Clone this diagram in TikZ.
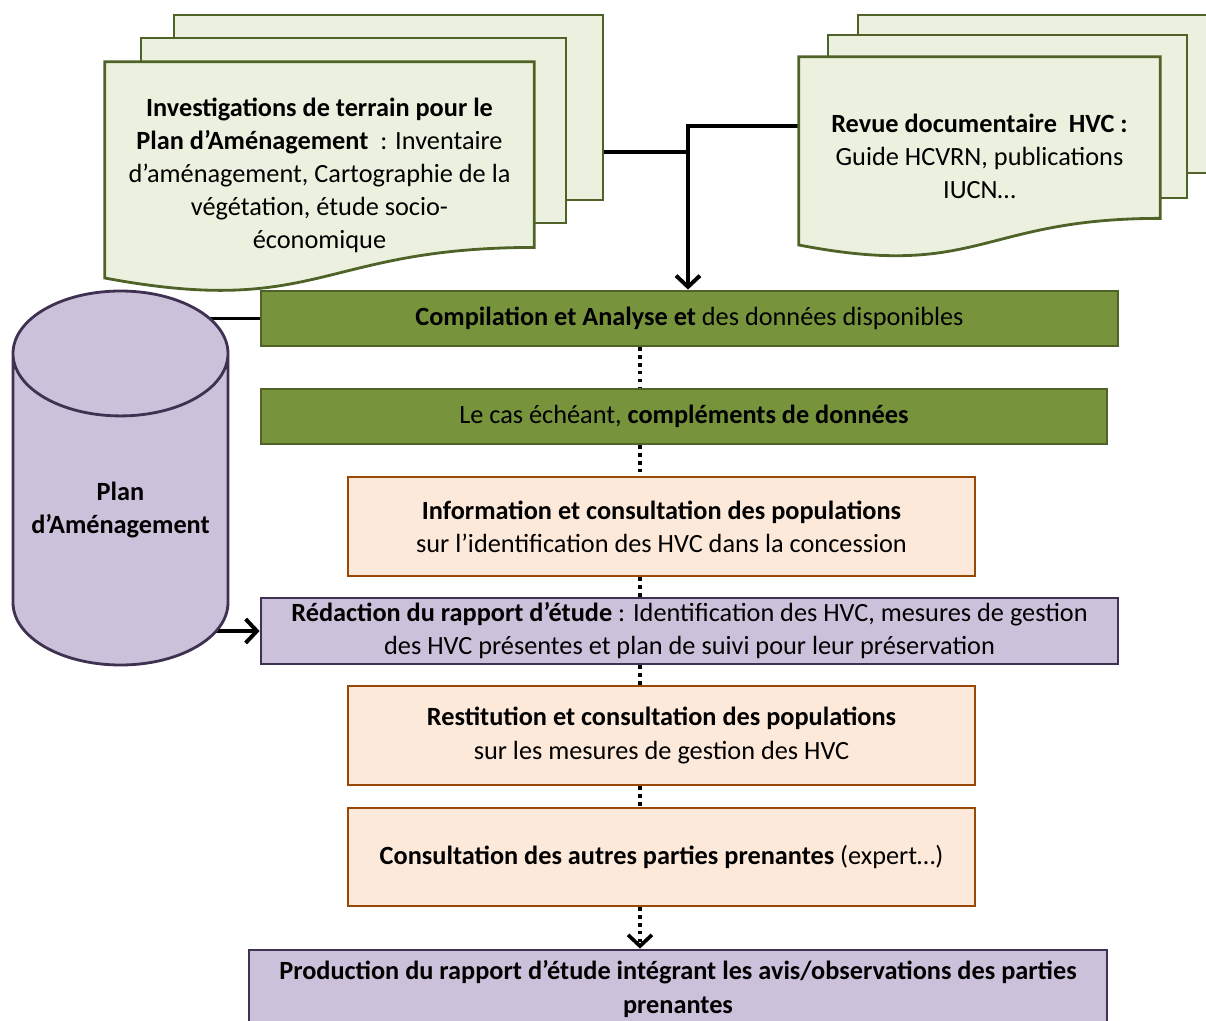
\documentclass[tikz,border=0pt]{standalone}
\usepackage{fontspec}
\setmainfont{Carlito}
\usetikzlibrary{arrows.meta,calc,shapes.geometric,positioning}

\newcommand\pu{0.025cm}
\definecolor{docfill}{HTML}{EBF1DE}
\definecolor{olivedk}{HTML}{4F6228}
\definecolor{olive}{HTML}{77933C}
\definecolor{peach}{HTML}{FDE9D9}
\definecolor{rust}{HTML}{984807}
\definecolor{lilac}{HTML}{CCC1DA}
\definecolor{plum}{HTML}{3F3151}

\begin{document}
\begin{tikzpicture}[x=\pu,y=-\pu,
  >={Straight Barb[length=8pt,width=17pt]},
  font=\fontsize{18.7}{23.5}\selectfont,
  sz/.style 2 args={minimum width=#1*\pu,minimum height=#2*\pu},
  conn/.style={line width=2.8pt,black},
  dotline/.style={line width=2.6pt,dash pattern=on 2.4pt off 3.2pt},
  docpage/.style={inner sep=0pt},
  docline/.style={draw=olivedk,fill=docfill,line width=2pt}]
  \tikzstyle{greenbox} = [draw=olivedk,fill=olive,line width=2pt,inner sep=0pt,align=center]
  \tikzstyle{peachbox} = [draw=rust,fill=peach,line width=2pt,inner sep=0pt,align=center]
  \tikzstyle{lilacbox} = [draw=plum,fill=lilac,line width=2pt,inner sep=0pt,align=center]
  \path[use as bounding box,clip] (0,0) rectangle (1206,1021);

  \coordinate (HUB) at (688,126);
  \coordinate (HUBL) at (688,152);
  \coordinate (SPINE) at (640,0);

  % boxes of the main column
  \node[greenbox,sz={857}{55}] (COMPIL) at (689.5,318.5) {\textbf{Compilation et Analyse et} des données disponibles};
  \node[greenbox,sz={846}{55}] (COMPL) at (684,416.5) {Le cas échéant, \textbf{compléments de données}};
  \node[peachbox,sz={627}{99}] (INFO) at (661.5,526.5) {\textbf{Information et consultation des populations}\\sur l’identification des HVC dans la concession};
  \node[lilacbox,sz={857}{66}] (REDAC) at (689.5,631) {\textbf{Rédaction du rapport d’étude} : Identification des HVC, mesures de gestion\\des HVC présentes et plan de suivi pour leur préservation};
  \node[peachbox,sz={627}{99}] (RESTIT) at (661.5,735.5) {\textbf{Restitution et consultation des populations}\\sur les mesures de gestion des HVC};
  \node[peachbox,sz={627}{98}] (CONSULT) at (661.5,857) {\textbf{Consultation des autres parties prenantes} (expert…)};
  \node[lilacbox,sz={858}{78}] (PROD) at (678,989) {\textbf{Production du rapport d’étude intégrant les avis/observations des parties}\\\textbf{prenantes}};

  % documents
  \node[docpage,sz={429}{231}] (TERRAIN) at (319.5,177.5) {};
  \node[docpage,sz={361}{201}] (REVUE) at (979.5,157.5) {};

  \draw[conn] (HUBL -| TERRAIN.center) -- (HUBL);
  \draw[conn,->] (HUB -| REVUE.center) -- (HUB) -- (HUB |- COMPIL.north);

  \draw[docline] (174,15) rectangle (603,200);
  \draw[docline] (141,38) rectangle (566,223);
  \draw[docline] (TERRAIN.north west) -- (TERRAIN.north east)
    -- ($(TERRAIN.north east)!0.802!(TERRAIN.south east)$)
    .. controls ($(TERRAIN.north)!0.802!(TERRAIN.south)$) and ($(TERRAIN.north)!1.1075!(TERRAIN.south)$)
    .. ($(TERRAIN.north west)!0.934!(TERRAIN.south west)$) -- cycle;
  \node[align=center] (TERRAINTXT) at ([yshift=1.6pt]TERRAIN.center)
    {\textbf{Investigations de terrain pour le}\\\textbf{Plan d’Aménagement} \ : Inventaire\\d’aménagement, Cartographie de la\\végétation, étude socio-\\économique};

  \draw[docline] (858,15) rectangle (1215,173);
  \draw[docline] (828,35) rectangle (1187,198);
  \draw[docline] (REVUE.north west) -- (REVUE.north east)
    -- ($(REVUE.north east)!0.802!(REVUE.south east)$)
    .. controls ($(REVUE.north)!0.802!(REVUE.south)$) and ($(REVUE.north)!1.1075!(REVUE.south)$)
    .. ($(REVUE.north west)!0.934!(REVUE.south west)$) -- cycle;
  \node[align=center] (REVUETXT) at ([yshift=0.6pt]REVUE.center)
    {\textbf{Revue documentaire \ HVC :}\\Guide HCVRN, publications\\IUCN…};

  % plan d'amenagement
  \draw[conn] (COMPIL.west) -- (COMPIL.west -| 120,0);
  \draw[conn,->] (REDAC.west -| 120,0) -- (REDAC.west);
  \node[cylinder,shape border rotate=90,aspect=0.70,draw=plum,fill=lilac,line width=2pt,
    sz={215}{374},align=center,inner sep=0pt,anchor=shape center] (CYL) at (120.5,478) {\textbf{Plan}\\\textbf{d’Aménagement}};

  \path[dotline]
    (COMPIL.south -| SPINE) edge (COMPL.north -| SPINE)
    (COMPL.south -| SPINE) edge (INFO.north -| SPINE)
    (INFO.south -| SPINE) edge (REDAC.north -| SPINE)
    (REDAC.south -| SPINE) edge (RESTIT.north -| SPINE)
    (RESTIT.south -| SPINE) edge (CONSULT.north -| SPINE)
    (CONSULT.south -| SPINE) edge[->] (PROD.north -| SPINE);

\end{tikzpicture}
\end{document}
